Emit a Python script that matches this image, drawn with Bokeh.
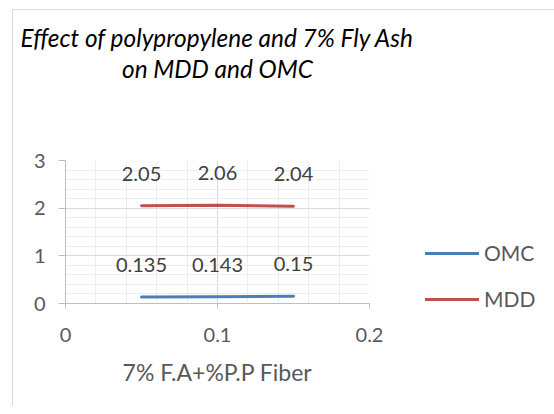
from bokeh.plotting import figure
from bokeh.models import Range1d, FixedTicker, Legend, LegendItem, Title
from bokeh.core.properties import value
from bokeh.embed import file_html
from bokeh.resources import INLINE

# ---- data ----
fiber = [0.05, 0.1, 0.15]
omc = [0.135, 0.143, 0.15]
mdd = [2.05, 2.06, 2.04]
omc_labels = ["0.135", "0.143", "0.15"]
mdd_labels = ["2.05", "2.06", "2.04"]
x_ticks = [0, 0.1, 0.2]
x_tick_labels = ["0", "0.1", "0.2"]
y_ticks = [0, 1, 2, 3]
title_lines = ["Effect of polypropylene and 7% Fly Ash", "on MDD and OMC"]
x_title = "7% F.A+%P.P Fiber"
series_names = ["OMC", "MDD"]

FONT = "Lato"
TXT = "#595959"

p = figure(frame_width=304, frame_height=143,
           x_range=Range1d(0, 0.2), y_range=Range1d(0, 3),
           output_backend="svg", toolbar_location=None,
           min_border_left=52, min_border_right=177,
           min_border_top=150, min_border_bottom=103,
           margin=(9, 0, 0, 12),
           styles={"border-top": "1px solid #d9d9d9",
                   "border-left": "1px solid #d9d9d9"})
p.outline_line_color = None
p.background_fill_color = "white"
p.border_fill_color = "white"

x_minor = [i * 0.02 for i in range(11)]
y_minor = [i * 0.2 for i in range(16)]
p.xaxis.ticker = FixedTicker(ticks=x_ticks, minor_ticks=x_minor)
p.yaxis.ticker = FixedTicker(ticks=y_ticks, minor_ticks=y_minor)
p.xgrid.ticker = p.xaxis.ticker
p.ygrid.ticker = p.yaxis.ticker
p.xaxis.major_label_overrides = dict(zip(x_ticks, x_tick_labels))

for g in (p.xgrid, p.ygrid):
    g.grid_line_color = "#d9d9d9"
    g.grid_line_width = 1
    g.minor_grid_line_color = "#ededed"

for ax in (p.xaxis, p.yaxis):
    ax.axis_line_color = "#bfbfbf"
    ax.major_tick_line_color = "#bfbfbf"
    ax.minor_tick_line_color = None
    ax.major_tick_in = 0
    ax.major_label_text_font = FONT
    ax.major_label_text_font_size = "20px"
    ax.major_label_text_color = TXT
p.yaxis.major_tick_out = 7
p.yaxis.major_label_standoff = 13
p.xaxis.major_tick_out = 5
p.xaxis.major_label_standoff = 19
p.xaxis.axis_label = x_title
p.xaxis.axis_label_text_font = FONT
p.xaxis.axis_label_text_font_style = "normal"
p.xaxis.axis_label_text_font_size = "23px"
p.xaxis.axis_label_text_color = TXT
p.xaxis.axis_label_standoff = 13

r_omc = p.line(fiber, omc, line_color="#4a7ebb", line_width=3, line_cap="round")
r_mdd = p.line(fiber, mdd, line_color="#c0504d", line_width=3, line_cap="round")

for ys, labs in ((omc, omc_labels), (mdd, mdd_labels)):
    p.text(x=fiber, y=ys, text=labs, text_align="center", text_baseline="middle",
           y_offset=-32, text_font=value(FONT), text_font_size="20px",
           text_color="#404040")

# spacer between frame and the title block (panels stack upward from the frame)
p.add_layout(Title(text=" ", text_font_size="1px", standoff=75), "above")
# title (two centred lines); first added sits nearest the frame
p.add_layout(Title(text=title_lines[1], align="center", text_font=FONT,
                   text_font_style="italic", text_font_size="24.4px",
                   text_color="black", standoff=0), "above")
p.add_layout(Title(text=title_lines[0], align="center", text_font=FONT,
                   text_font_style="italic", text_font_size="24.4px",
                   text_color="black", standoff=0), "above")

legend = Legend(items=[LegendItem(label=series_names[0], renderers=[r_omc]),
                       LegendItem(label=series_names[1], renderers=[r_mdd])],
                location=(56, -8), orientation="vertical",
                glyph_width=54, glyph_height=14, label_height=14,
                label_standoff=5, spacing=21, padding=0, margin=0,
                border_line_color=None, background_fill_alpha=0,
                label_text_font=FONT, label_text_font_size="21px",
                label_text_color=TXT)
p.add_layout(legend, "right")

open("out.html", "w").write(file_html(p, INLINE))
